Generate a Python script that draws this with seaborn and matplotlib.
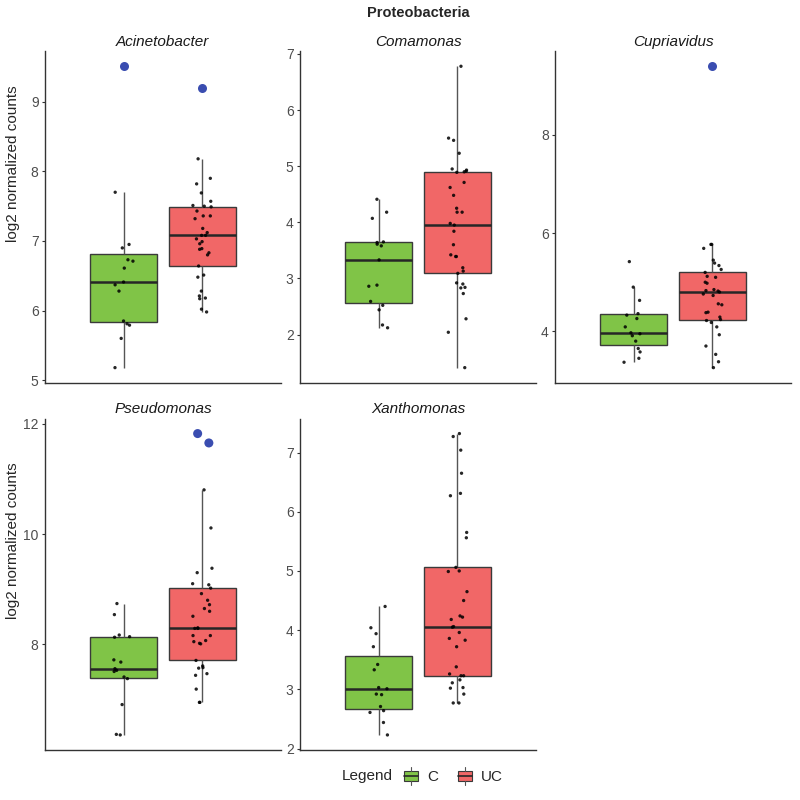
import numpy as np
import pandas as pd
import seaborn as sns
import matplotlib.pyplot as plt
from matplotlib.patches import Patch, Rectangle
from matplotlib.lines import Line2D
from matplotlib.legend_handler import HandlerBase
from matplotlib.ticker import MultipleLocator

genera = ['Acinetobacter', 'Comamonas', 'Cupriavidus', 'Pseudomonas', 'Xanthomonas']
groups = ['C', 'UC']

# jittered sample values (black dots)
acin_c = [7.70, 6.95, 6.90, 6.73, 6.71, 6.61, 6.41, 6.37, 6.28, 5.85, 5.81, 5.79, 5.60, 5.18]
acin_uc = [8.18, 7.90, 7.82, 7.69, 7.57, 7.51, 7.50, 7.49, 7.43, 7.36, 7.36, 7.32, 7.18, 7.12,
           7.08, 7.08, 7.03, 6.99, 6.96, 6.89, 6.88, 6.83, 6.80, 6.64, 6.51, 6.48, 6.28, 6.21,
           6.18, 6.17, 6.02, 5.98]
coma_c = [4.41, 4.18, 4.07, 3.65, 3.64, 3.61, 3.58, 3.33, 2.88, 2.86, 2.59, 2.52, 2.44, 2.17, 2.12]
coma_uc = [6.78, 5.50, 5.46, 5.23, 4.95, 4.93, 4.91, 4.90, 4.89, 4.71, 4.62, 4.48, 4.25, 4.18,
           4.18, 3.98, 3.95, 3.84, 3.60, 3.42, 3.39, 3.39, 3.19, 3.13, 3.09, 2.92, 2.90, 2.84,
           2.83, 2.73, 2.28, 2.04, 1.41]
cupr_c = [5.42, 4.90, 4.63, 4.36, 4.33, 4.26, 4.09, 3.97, 3.95, 3.91, 3.80, 3.65, 3.58, 3.45, 3.37]
cupr_uc = [5.77, 5.77, 5.69, 5.45, 5.39, 5.34, 5.26, 5.20, 5.12, 5.10, 5.00, 4.98, 4.85, 4.83,
           4.82, 4.80, 4.76, 4.73, 4.56, 4.54, 4.39, 4.38, 4.29, 4.24, 4.22, 4.18, 4.09, 3.93,
           3.70, 3.53, 3.38, 3.26]
pseu_c = [8.74, 8.54, 8.17, 8.14, 8.13, 7.72, 7.68, 7.56, 7.53, 7.51, 7.41, 7.38, 6.91, 6.37, 6.36]
pseu_uc = [10.80, 10.11, 9.38, 9.30, 9.10, 9.08, 9.02, 8.92, 8.80, 8.72, 8.65, 8.60, 8.51, 8.30,
           8.29, 8.29, 8.16, 8.16, 8.07, 8.05, 8.02, 8.01, 7.71, 7.61, 7.58, 7.57, 7.47, 7.44,
           7.19, 6.95, 6.95]
xant_c = [4.40, 4.04, 3.94, 3.72, 3.42, 3.33, 3.03, 3.01, 2.92, 2.91, 2.71, 2.64, 2.61, 2.44, 2.23]
xant_uc = [7.32, 7.27, 7.04, 6.65, 6.31, 6.27, 5.65, 5.56, 5.06, 5.00, 4.99, 4.65, 4.50, 4.24,
           4.22, 4.18, 4.06, 4.05, 3.96, 3.86, 3.83, 3.72, 3.38, 3.26, 3.23, 3.23, 3.16, 3.11,
           3.03, 3.02, 2.92, 2.77, 2.77]

# outliers (blue dots)
acin_c_out, acin_uc_out = [9.51], [9.20]
coma_c_out, coma_uc_out = [], []
cupr_c_out, cupr_uc_out = [], [9.40]
pseu_c_out, pseu_uc_out = [], [11.82, 11.65]
xant_c_out, xant_uc_out = [], []

points = {
    'Acinetobacter': (acin_c, acin_uc, acin_c_out, acin_uc_out),
    'Comamonas': (coma_c, coma_uc, coma_c_out, coma_uc_out),
    'Cupriavidus': (cupr_c, cupr_uc, cupr_c_out, cupr_uc_out),
    'Pseudomonas': (pseu_c, pseu_uc, pseu_c_out, pseu_uc_out),
    'Xanthomonas': (xant_c, xant_uc, xant_c_out, xant_uc_out),
}
tick_step = {'Acinetobacter': 1, 'Comamonas': 1, 'Cupriavidus': 2, 'Pseudomonas': 2, 'Xanthomonas': 1}

rows = []
for g, (c, uc, c_out, uc_out) in points.items():
    for v in c:
        rows.append((g, 'C', v, False))
    for v in uc:
        rows.append((g, 'UC', v, False))
    for v in c_out:
        rows.append((g, 'C', v, True))
    for v in uc_out:
        rows.append((g, 'UC', v, True))
df = pd.DataFrame(rows, columns=['genus', 'group', 'value', 'outlier'])

pal = {'C': '#80C447', 'UC': '#F16767'}
black = {'C': 'black', 'UC': 'black'}
blue = {'C': '#3A4DB0', 'UC': '#3A4DB0'}

sns.set_style('ticks')
plt.rcParams['font.family'] = ['Liberation Sans', 'DejaVu Sans']
plt.rcParams['axes.edgecolor'] = '#333333'
plt.rcParams['ytick.color'] = '#333333'
plt.rcParams['ytick.labelcolor'] = '#4D4D4D'

np.random.seed(7)
fig, axs = plt.subplots(2, 3, figsize=(8, 8))
fig.subplots_adjust(left=0.056, right=0.989, top=0.936, bottom=0.0625, wspace=0.08, hspace=0.108)

for ax, g in zip(axs.flat, genera):
    d = df[df['genus'] == g]
    sns.boxplot(data=d, x='genus', y='value', hue='group', hue_order=groups, palette=pal,
                saturation=1, width=0.8, gap=0.15, showfliers=False, showcaps=False,
                linecolor='#3a3a3a', linewidth=1,
                medianprops={'linewidth': 1.8, 'color': '#262626'},
                whiskerprops={'color': '#555555'},
                legend=False, ax=ax)
    sns.stripplot(data=d[~d['outlier']], x='genus', y='value', hue='group', hue_order=groups,
                  palette=black, dodge=True, jitter=0.1, size=2.4, alpha=0.85,
                  legend=False, ax=ax)
    out = d[d['outlier']]
    if len(out):
        sns.stripplot(data=out, x='genus', y='value', hue='group', hue_order=groups,
                      palette=blue, dodge=True, jitter=0.08, size=6.5,
                      legend=False, ax=ax)
    ax.set_xlim(-0.6, 0.6)
    ax.set_xticks([])
    ax.set_xlabel('')
    ax.set_ylabel('')
    ax.yaxis.set_major_locator(MultipleLocator(tick_step[g]))
    ax.tick_params(axis='y', labelsize=10, length=2.5, width=0.8, pad=2)
    ax.set_title(g, fontsize=11, style='italic', pad=4, color='#1a1a1a')
    for s in ['left', 'bottom']:
        ax.spines[s].set_linewidth(1)
    sns.despine(ax=ax)

axs[1, 2].axis('off')

axs[0, 0].set_ylabel('log2 normalized counts', fontsize=11)
axs[0, 0].yaxis.set_label_coords(-0.106, 0.66)
axs[1, 0].set_ylabel('log2 normalized counts', fontsize=11)
axs[1, 0].yaxis.set_label_coords(-0.106, 0.63)

fig.text(0.523, 0.984, 'Proteobacteria', ha='center', va='center', fontsize=10.5, fontweight='bold')


class BoxHandler(HandlerBase):
    def create_artists(self, legend, orig_handle, xdescent, ydescent, width, height, fontsize, trans):
        x0, y0 = -xdescent, -ydescent
        cx = x0 + width / 2
        rect = Rectangle((x0, y0 + height * 0.18), width, height * 0.64,
                         facecolor=orig_handle.get_facecolor(), edgecolor='#3a3a3a',
                         lw=0.8, transform=trans)
        med = Line2D([x0, x0 + width], [y0 + height / 2] * 2, color='#262626', lw=1.2, transform=trans)
        w1 = Line2D([cx, cx], [y0 - height * 0.05, y0 + height * 0.18], color='#555555', lw=0.8, transform=trans)
        w2 = Line2D([cx, cx], [y0 + height * 0.82, y0 + height * 1.05], color='#555555', lw=0.8, transform=trans)
        return [rect, med, w1, w2]


handles = [Patch(facecolor=pal[k]) for k in groups]
fig.text(0.491, 0.03, 'Legend', ha='right', va='center', fontsize=11)
fig.legend(handles, groups, handler_map={Patch: BoxHandler()}, loc='center',
           bbox_to_anchor=(0.567, 0.03), ncol=2, frameon=False, fontsize=11,
           handlelength=0.9, handleheight=1.3, handletextpad=0.6, columnspacing=1.3)

plt.savefig('out.png', dpi=100)
